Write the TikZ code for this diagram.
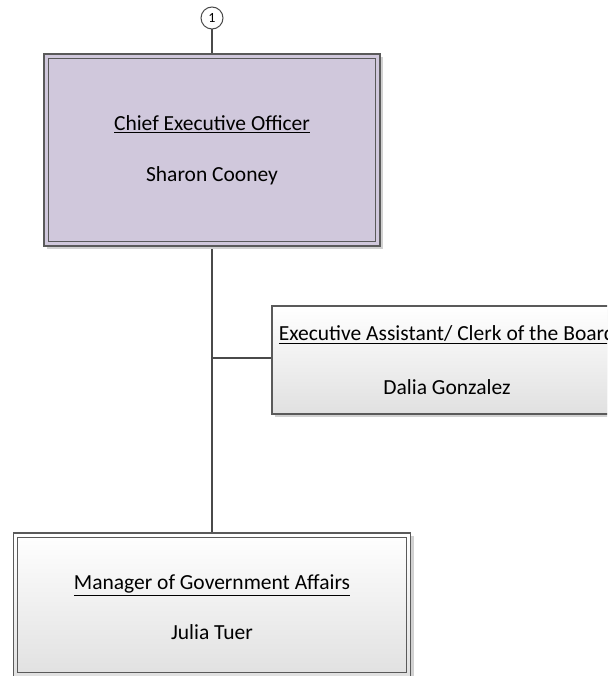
\documentclass[tikz,border=0pt]{standalone}
\usepackage{fontspec}
\setmainfont{Carlito}
\usetikzlibrary{shadows}
\definecolor{ceofill}{HTML}{D0C8DC}
\definecolor{edgec}{HTML}{4A4A4A}
\definecolor{boxline}{HTML}{5A5A5A}
\tikzset{
  orgbox/.style={draw=boxline, line width=1.5pt, rectangle, inner sep=0pt, align=center,
    font=\fontsize{21.5}{26}\selectfont,
    drop shadow={shadow xshift=3pt, shadow yshift=-3pt, fill=black!18, opacity=1}},
  ceobox/.style={orgbox, fill=ceofill},
  plainbox/.style={orgbox, top color=white, bottom color=black!12},
  inner/.style={draw=boxline, line width=1.1pt},
  conn/.style={draw=edgec, line width=2.6pt},
  numc/.style={circle, draw=edgec, line width=1pt, fill=white, minimum size=22pt, inner sep=0pt, font=\fontsize{14}{16}\selectfont}
}
\begin{document}
\begin{tikzpicture}[x=1pt,y=-1pt]
\useasboundingbox (0,0) rectangle (607,676);
\clip (0,0) rectangle (607,676);
% connectors first
\coordinate (ceoS) at (212,246);
\coordinate (mgrN) at (212,534);
\coordinate (j) at (212,358);
\coordinate (eaW) at (272,358);
\coordinate (c1S) at (212,29);
\coordinate (ceoN) at (212,54);
\draw[conn] (c1S) -- (ceoN);
\draw[conn] (ceoS) -- (mgrN);
\draw[conn] (j) -- (eaW);
% boxes
\node[ceobox, minimum width=336pt, minimum height=192pt] (ceo) at (212,150)
  {\underline{Chief Executive Officer}\\[25pt]Sharon Cooney};
\draw[inner] ([shift={(5pt,-5pt)}]ceo.north west) rectangle ([shift={(-5pt,5pt)}]ceo.south east);
\node[plainbox, minimum width=350pt, minimum height=108pt] (ea) at (447,360)
  {\underline{Executive Assistant/ Clerk of the Board}\\[28pt]Dalia Gonzalez};
\node[plainbox, minimum width=397pt, minimum height=144pt] (mgr) at (212,605)
  {\mbox{}\\[-6pt]\underline{Manager of Government Affairs}\\[24pt]Julia Tuer};
\draw[inner] ([shift={(5pt,-5pt)}]mgr.north west) rectangle ([shift={(-5pt,5pt)}]mgr.south east);
\node[numc] (c1) at (212,18) {1};
\end{tikzpicture}
\end{document}
